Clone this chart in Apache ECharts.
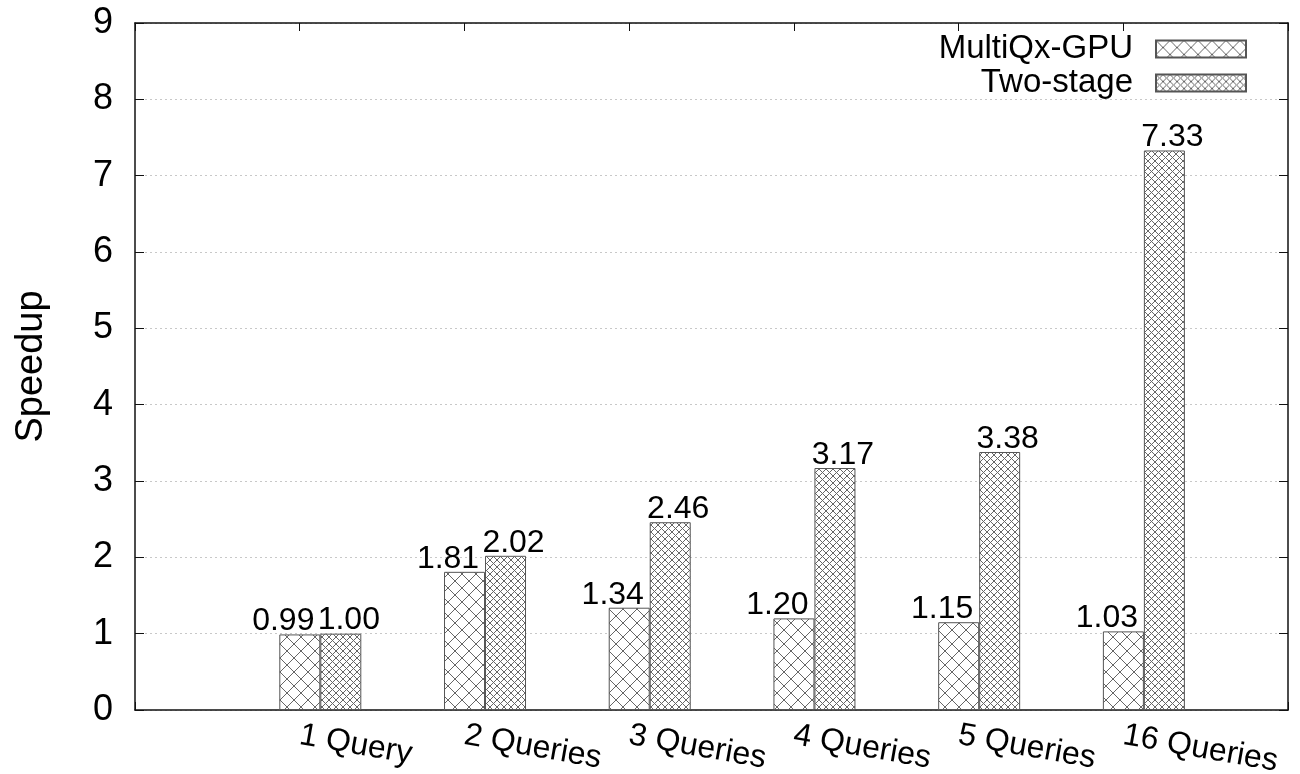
<!DOCTYPE html>
<html>
<head>
<meta charset="utf-8">
<script src="https://cdn.jsdelivr.net/npm/echarts@6/dist/echarts.min.js"></script>
<style>
  html, body { margin: 0; padding: 0; background: #fff; }
  #chart { width: 1300px; height: 774px; }
</style>
</head>
<body>
<div id="chart"></div>
<script>
// Workload sizes and measured speedups
const categories = ['1 Query', '2 Queries', '3 Queries', '4 Queries', '5 Queries', '16 Queries'];
const multiQxGpu = [0.99, 1.81, 1.34, 1.20, 1.15, 1.03];
const twoStage = [1.00, 2.02, 2.46, 3.17, 3.38, 7.33];
const seriesNames = ['MultiQx-GPU', 'Two-stage'];

const FONT = '"Liberation Sans", Arial, Helvetica, sans-serif';

// Diagonal cross-hatch tile used as a bar fill
function crossHatch(size, color) {
  const c = document.createElement('canvas');
  c.width = size; c.height = size;
  const g = c.getContext('2d');
  g.fillStyle = '#fff';
  g.fillRect(0, 0, size, size);
  g.strokeStyle = color;
  g.lineWidth = 1;
  g.beginPath();
  for (const d of [-size, 0, size]) {
    g.moveTo(d, 0); g.lineTo(d + size, size);
    g.moveTo(d + size, 0); g.lineTo(d, size);
  }
  g.stroke();
  return c;
}

const sparseFill = { image: crossHatch(14, '#666'), repeat: 'repeat' };
const denseFill = { image: crossHatch(7, '#666'), repeat: 'repeat' };

const toPoints = vals => vals.map((v, i) => [i, v]);

const chart = echarts.init(document.getElementById('chart'), null, { renderer: 'canvas' });

const frameLine = { show: true, onZero: false, lineStyle: { color: '#111', width: 1.5 } };
const innerTick = len => ({ show: true, inside: true, length: len, lineStyle: { color: '#111' } });

chart.setOption({
  backgroundColor: '#fff',
  animation: false,
  textStyle: { fontFamily: FONT, color: '#000' },
  grid: { left: 135, right: 12, top: 23, bottom: 64, containLabel: false, outerBoundsMode: 'none' },
  legend: {
    orient: 'vertical',
    align: 'right',
    right: 48,
    top: 27,
    icon: 'rect',
    itemWidth: 90,
    itemHeight: 17,
    itemGap: 0,
    textStyle: { fontFamily: FONT, fontSize: 33, color: '#000', lineHeight: 34, padding: [0, 18, 0, 0] },
    data: seriesNames
  },
  xAxis: [
    {
      // bottom axis: tick positions and category names
      type: 'value', position: 'bottom', min: -1, max: 6, interval: 1,
      axisLine: frameLine,
      axisTick: innerTick(8),
      splitLine: { show: false },
      axisLabel: {
        show: true, rotate: -10, margin: 25, fontSize: 32, fontFamily: FONT, color: '#000',
        formatter: v => (v >= 0 && v < categories.length && Number.isInteger(v)) ? categories[v] : ''
      }
    },
    {
      // top border with mirrored ticks
      type: 'value', position: 'top', min: -1, max: 6, interval: 1,
      axisLine: frameLine,
      axisTick: innerTick(8),
      splitLine: { show: false },
      axisLabel: { show: false }
    },
    {
      // bar placement axis: MultiQx-GPU bar sits on the tick, Two-stage next to it
      type: 'value', min: -1.125, max: 5.875, show: false
    }
  ],
  yAxis: [
    {
      type: 'value', position: 'left', min: 0, max: 9, interval: 1,
      name: 'Speedup', nameLocation: 'middle', nameGap: 84,
      nameTextStyle: { fontSize: 38, fontFamily: FONT, color: '#000' },
      axisLine: frameLine,
      axisTick: innerTick(9),
      axisLabel: { fontSize: 36, fontFamily: FONT, color: '#000', margin: 22 },
      splitLine: { show: true, lineStyle: { color: '#c8c8c8', type: [2, 3], width: 1 } }
    },
    {
      type: 'value', position: 'right', min: 0, max: 9, interval: 1,
      axisLine: frameLine,
      axisTick: innerTick(9),
      axisLabel: { show: false },
      splitLine: { show: false }
    }
  ],
  series: [
    {
      name: seriesNames[0], type: 'bar', xAxisIndex: 2, yAxisIndex: 0,
      barWidth: 41, barGap: '0%',
      data: toPoints(multiQxGpu),
      itemStyle: { color: sparseFill, borderColor: '#555', borderWidth: 1 },
      label: {
        show: true, position: 'top', distance: -3, offset: [-16.5, 0],
        fontSize: 32, fontFamily: FONT, color: '#000',
        formatter: p => p.value[1].toFixed(2)
      }
    },
    {
      name: seriesNames[1], type: 'bar', xAxisIndex: 2, yAxisIndex: 0,
      barWidth: 41, barGap: '0%',
      data: toPoints(twoStage),
      itemStyle: { color: denseFill, borderColor: '#555', borderWidth: 1 },
      label: {
        show: true, position: 'top', distance: -3, offset: [8, 0],
        fontSize: 32, fontFamily: FONT, color: '#000',
        formatter: p => p.value[1].toFixed(2)
      }
    }
  ]
});
</script>
</body>
</html>
